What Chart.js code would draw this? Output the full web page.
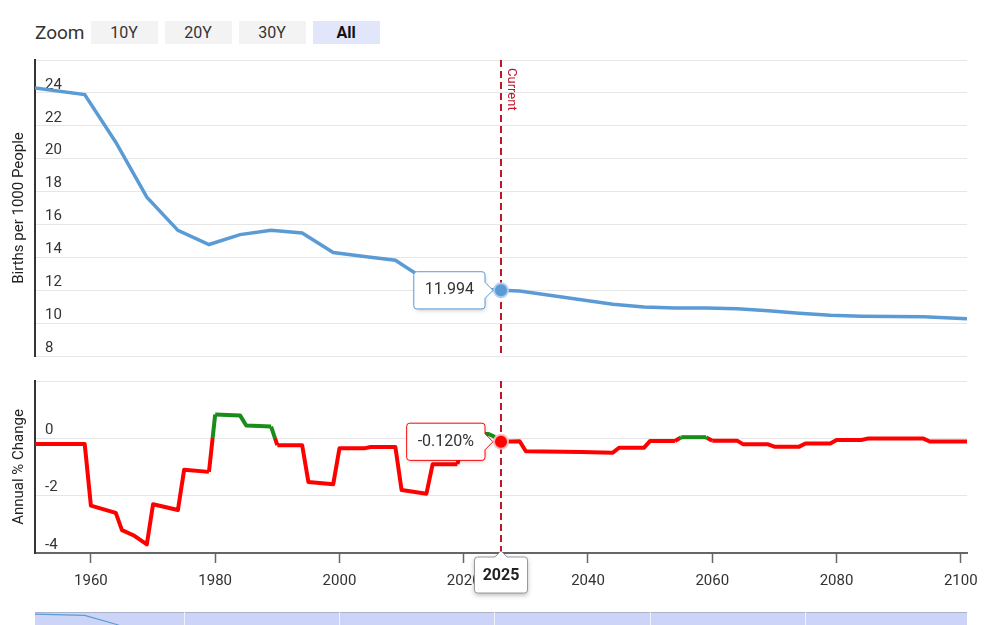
<!DOCTYPE html>
<html lang="en">
<head>
<meta charset="UTF-8">
<title>Birth Rate</title>
<style>
  body { margin: 0; background: #fff; font-family: Roboto, sans-serif; width: 1000px; height: 625px; overflow: hidden; position: relative; }
  #zoom { position: absolute; left: 35px; top: 21px; display: flex; align-items: center; }
  #zoom .lbl { font-size: 19px; color: #333; margin-right: 6px; }
  #zoom .btn { width: 67px; height: 23px; line-height: 23px; text-align: center; background: #f3f3f3; font-size: 16px; color: #333; margin-right: 7px; }
  #zoom .btn.on { background: #e1e6fa; font-weight: bold; color: #111; }
  canvas { position: absolute; left: 0; }
</style>
</head>
<body>
<div id="zoom"><span class="lbl">Zoom</span><div class="btn">10Y</div><div class="btn">20Y</div><div class="btn">30Y</div><div class="btn on">All</div></div>
<canvas id="rate" width="1000" height="310" style="top:50px"></canvas>
<canvas id="change" width="1000" height="230" style="top:370px"></canvas>
<canvas id="nav" width="1000" height="60" style="top:610px"></canvas>

<script src="https://cdn.jsdelivr.net/npm/chart.js"></script>
<script>
// birth rate (per 1000 people), read at the corners of the line
const rateYears  = [1950, 1958, 1963, 1968, 1973, 1978, 1983, 1988, 1993, 1998, 2003, 2008, 2013, 2018, 2023, 2025,
                    2028, 2043, 2048, 2053, 2058, 2063, 2068, 2073, 2078, 2083, 2093, 2100];
const rateValues = [24.30, 23.90, 21.0, 17.66, 15.64, 14.78, 15.38, 15.64, 15.48, 14.29, 14.05, 13.82, 12.6, 12.05, 12.05, 11.994,
                    11.95, 11.15, 10.98, 10.92, 10.92, 10.88, 10.75, 10.6, 10.48, 10.42, 10.38, 10.27];

// annual % change
const changeYears  = [1950, 1958, 1959, 1963, 1964, 1966, 1968, 1969, 1973, 1974, 1978, 1979, 1983, 1984, 1988, 1989,
                      1993, 1994, 1998, 1999, 2003, 2004, 2008, 2009, 2013, 2014, 2018, 2019, 2023, 2024, 2025,
                      2028, 2029, 2038, 2043, 2044, 2048, 2049, 2053, 2054, 2058, 2059, 2063, 2064, 2068, 2069,
                      2073, 2074, 2078, 2079, 2083, 2084, 2093, 2094, 2100];
const changeValues = [-0.2, -0.2, -2.35, -2.6, -3.2, -3.4, -3.7, -2.3, -2.5, -1.1, -1.17, 0.83, 0.8, 0.45, 0.41, -0.24,
                      -0.24, -1.52, -1.6, -0.35, -0.35, -0.3, -0.3, -1.8, -1.93, -0.9, -0.9, 0.15, 0.15, 0.05, -0.12,
                      -0.1, -0.45, -0.48, -0.5, -0.33, -0.33, -0.09, -0.09, 0.04, 0.04, -0.08, -0.08, -0.21, -0.21, -0.29,
                      -0.29, -0.18, -0.18, -0.06, -0.06, -0.01, -0.01, -0.11, -0.11];

const xTickYears   = [1960, 1980, 2000, 2020, 2040, 2060, 2080, 2100];
const rateTicks    = [8, 10, 12, 14, 16, 18, 20, 22, 24];
const changeTicks  = [-4, -2, 0];
const navGridYears = [1975, 2000, 2025, 2050, 2075];
const currentYear  = 2025;

const BLUE = '#5b9bd5', RED = '#ff0000', GREEN = '#1a8c1a', CUR = '#c0162c';
Chart.defaults.font.family = 'Roboto, sans-serif';

// values are stamped at the end of each year
const ratePts   = rateYears.map((y, i) => ({ x: y + 1, y: rateValues[i] }));
const changePts = changeYears.map((y, i) => ({ x: y + 1, y: changeValues[i] }));

const currentLine = {
  id: 'currentLine',
  beforeDatasetsDraw(chart, args, opts) {
    const { ctx, chartArea, scales } = chart;
    const x = scales.x.getPixelForValue(currentYear + 1);
    ctx.save();
    ctx.strokeStyle = CUR;
    ctx.lineWidth = 2;
    ctx.setLineDash([7, 4]);
    ctx.beginPath();
    ctx.moveTo(x, chartArea.top);
    ctx.lineTo(x, chartArea.bottom);
    ctx.stroke();
    if (opts.label) {
      ctx.translate(x + 4, chartArea.top + 8);
      ctx.rotate(Math.PI / 2);
      ctx.fillStyle = CUR;
      ctx.font = '13px Roboto';
      ctx.textAlign = 'left';
      ctx.textBaseline = 'bottom';
      ctx.fillText('Current', 0, 0);
    }
    ctx.restore();
  }
};

const tipShadow = {
  id: 'tipShadow',
  beforeTooltipDraw(chart, args) {
    const t = args.tooltip;
    if (!t.opacity) return;
    const c = chart.ctx;
    c.save();
    c.shadowColor = 'rgba(0,0,0,0.3)';
    c.shadowBlur = 5;
    c.shadowOffsetX = 1;
    c.shadowOffsetY = 2;
    c.fillStyle = '#fff';
    c.fillRect(t.x + 1, t.y + 1, t.width - 2, t.height - 2);
    c.restore();
  }
};

const xBox = {
  id: 'xBox',
  afterDraw(chart) {
    const { ctx, scales, chartArea } = chart;
    const x = scales.x.getPixelForValue(currentYear + 1);
    const top = chartArea.bottom + 4, w = 53, h = 36, l = x - w / 2, r = 3;
    ctx.save();
    ctx.beginPath();
    ctx.moveTo(l + r, top);
    ctx.lineTo(x - 6, top);
    ctx.lineTo(x, top - 6);
    ctx.lineTo(x + 6, top);
    ctx.lineTo(l + w - r, top);
    ctx.arcTo(l + w, top, l + w, top + r, r);
    ctx.lineTo(l + w, top + h - r);
    ctx.arcTo(l + w, top + h, l + w - r, top + h, r);
    ctx.lineTo(l + r, top + h);
    ctx.arcTo(l, top + h, l, top + h - r, r);
    ctx.lineTo(l, top + r);
    ctx.arcTo(l, top, l + r, top, r);
    ctx.closePath();
    ctx.shadowColor = 'rgba(0,0,0,0.3)';
    ctx.shadowBlur = 5;
    ctx.shadowOffsetY = 2;
    ctx.fillStyle = '#fff';
    ctx.fill();
    ctx.shadowColor = 'transparent';
    ctx.strokeStyle = '#999';
    ctx.lineWidth = 1;
    ctx.stroke();
    ctx.fillStyle = '#222';
    ctx.font = 'bold 16px Roboto';
    ctx.textAlign = 'center';
    ctx.textBaseline = 'middle';
    ctx.fillText(String(currentYear), x, top + h / 2 + 1);
    ctx.restore();
  }
};

function tooltipOpts(color, suffix) {
  return {
    enabled: true,
    xAlign: 'right',
    yAlign: 'center',
    backgroundColor: '#fff',
    borderColor: color,
    borderWidth: 1,
    bodyColor: '#333',
    bodyFont: { size: 16 },
    displayColors: false,
    caretSize: 8,
    caretPadding: 8,
    cornerRadius: 3,
    padding: { left: 11, right: 11, top: 9, bottom: 9 },
    callbacks: { title: () => '', label: c => c.parsed.y.toFixed(3) + suffix }
  };
}

function yAxis(min, max, labels, title) {
  return {
    min: min, max: max,
    afterFit: s => { s.width = 35; s.paddingTop = 0; s.paddingBottom = 0; },
    afterBuildTicks: s => {
      const t = [];
      for (let v = min; v <= max; v += 2) t.push({ value: v });
      s.ticks = t;
    },
    border: { color: '#333', width: 2 },
    grid: { color: '#e6e6e6', drawTicks: false },
    ticks: {
      mirror: true, padding: 10, labelOffset: -8,
      color: '#333', font: { size: 15 },
      callback: v => labels.includes(v) ? String(v) : ''
    },
    title: { display: true, text: title, color: '#222', font: { size: 15 }, padding: { top: 10, bottom: 0 } }
  };
}

const rateChart = new Chart(document.getElementById('rate'), {
  type: 'line',
  data: { datasets: [{
    data: ratePts, borderColor: BLUE, borderWidth: 3.5, tension: 0,
    pointRadius: 0, pointHoverRadius: 7, pointHoverBackgroundColor: BLUE,
    pointHoverBorderColor: 'rgba(180,210,240,0.9)', pointHoverBorderWidth: 2
  }] },
  options: {
    responsive: false, animation: false, events: [],
    layout: { padding: { top: 10, bottom: 4, right: 33, left: 0 } },
    scales: {
      x: { type: 'linear', min: 1951, max: 2101, display: false },
      y: yAxis(8, 26, rateTicks, 'Births per 1000 People')
    },
    plugins: {
      legend: { display: false },
      tooltip: tooltipOpts(BLUE, ''),
      currentLine: { label: true }
    }
  },
  plugins: [currentLine, tipShadow]
});

function segColor(c) {
  const a = c.p0.parsed.y, b = c.p1.parsed.y;
  if (a >= 0 && b >= 0) return GREEN;
  if (a < 0 && b < 0) return RED;
  const t = a / (a - b);
  const g = c.chart.ctx.createLinearGradient(c.p0.x, c.p0.y, c.p1.x, c.p1.y);
  const c0 = a >= 0 ? GREEN : RED, c1 = a >= 0 ? RED : GREEN;
  g.addColorStop(0, c0); g.addColorStop(t, c0);
  g.addColorStop(t, c1); g.addColorStop(1, c1);
  return g;
}

const changeChart = new Chart(document.getElementById('change'), {
  type: 'line',
  data: { datasets: [{
    data: changePts, borderColor: RED, borderWidth: 4, tension: 0,
    borderJoinStyle: 'round',
    segment: { borderColor: segColor },
    pointRadius: 0, pointHoverRadius: 7, pointHoverBackgroundColor: RED,
    pointHoverBorderColor: 'rgba(255,190,190,0.9)', pointHoverBorderWidth: 2
  }] },
  options: {
    responsive: false, animation: false, events: [],
    layout: { padding: { top: 11, bottom: 0, right: 33, left: 0 } },
    scales: {
      x: {
        type: 'linear', min: 1951, max: 2101,
        afterBuildTicks: s => { s.ticks = xTickYears.map(v => ({ value: v })); },
        afterFit: s => { s.height = 47; s.paddingLeft = 0; s.paddingRight = 0; },
        border: { color: '#666', width: 2 },
        grid: { drawOnChartArea: false, drawTicks: true, tickLength: 10, tickColor: '#666', tickWidth: 1.5 },
        ticks: { color: '#333', font: { size: 15 }, padding: 9, maxRotation: 0, autoSkip: false, callback: v => String(v) }
      },
      y: yAxis(-4, 2, changeTicks, 'Annual % Change')
    },
    plugins: {
      legend: { display: false },
      tooltip: tooltipOpts(RED, '%'),
      currentLine: { label: false }
    }
  },
  plugins: [currentLine, tipShadow, xBox]
});

const navBg = {
  id: 'navBg',
  beforeDraw(chart) {
    const { ctx, chartArea } = chart;
    ctx.save();
    ctx.fillStyle = '#ccd5f7';
    ctx.fillRect(chartArea.left, chartArea.top, chartArea.right - chartArea.left, chartArea.bottom - chartArea.top);
    ctx.strokeStyle = '#aab3cc';
    ctx.lineWidth = 1;
    ctx.beginPath();
    ctx.moveTo(chartArea.left, chartArea.top + 0.5);
    ctx.lineTo(chartArea.right, chartArea.top + 0.5);
    ctx.stroke();
    ctx.restore();
  }
};

new Chart(document.getElementById('nav'), {
  type: 'line',
  data: { datasets: [{ data: ratePts, borderColor: BLUE, borderWidth: 1.2, pointRadius: 0, tension: 0 }] },
  options: {
    responsive: false, animation: false, events: [],
    layout: { padding: { top: 2, bottom: 0, right: 33, left: 35 } },
    scales: {
      x: {
        type: 'linear', min: 1951, max: 2101,
        afterBuildTicks: s => { s.ticks = navGridYears.map(v => ({ value: v })); },
        border: { display: false },
        grid: { color: 'rgba(255,255,255,0.7)', drawTicks: false },
        ticks: { display: false }
      },
      y: { min: 6, max: 25, display: false }
    },
    plugins: { legend: { display: false }, tooltip: { enabled: false } }
  },
  plugins: [navBg]
});

function showCurrent(chart) {
  const i = chart.data.datasets[0].data.findIndex(p => p.x === currentYear + 1);
  const pt = chart.getDatasetMeta(0).data[i];
  const act = [{ datasetIndex: 0, index: i }];
  chart.setActiveElements(act);
  chart.tooltip.setActiveElements(act, { x: pt.x, y: pt.y });
  chart.update();
}
showCurrent(rateChart);
showCurrent(changeChart);
</script>
</body>
</html>
